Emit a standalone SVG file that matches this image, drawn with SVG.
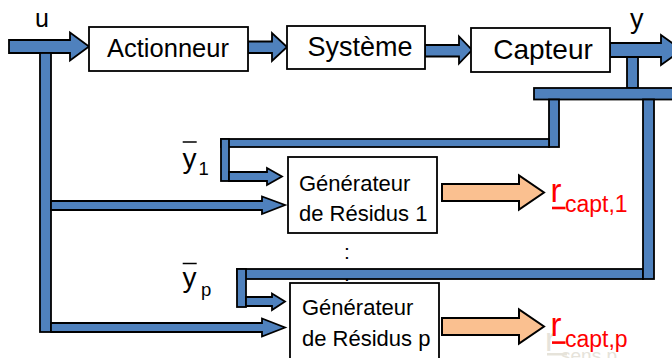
<svg xmlns="http://www.w3.org/2000/svg" width="672" height="358" viewBox="0 0 672 358">
  <style>
    .bus { fill: #4F81BD; stroke: #000; stroke-width: 1.8; stroke-linejoin: miter; }
    .res { fill: #FAC090; stroke: #000; stroke-width: 2; stroke-linejoin: miter; }
    .box { fill: #fff; stroke: #000; stroke-width: 1.8; }
    text { font-family: "Liberation Sans", Arial, sans-serif; fill: #000; }
    .lbl { font-size: 22px; }
    .sig { fill: #FF0000; }
    .ghost { fill: #E6E3DA; }
    .bar { stroke: #000; stroke-width: 1.5; }
  </style>

  <!-- faint leftover residual label, drawn underneath everything -->
  <g id="residual-ghost">
    <text class="ghost" x="545" y="351" font-size="33">r</text>
    <rect class="ghost" x="547" y="353" width="20" height="2.5"/>
    <text class="ghost" x="561" y="362" font-size="19">sens,p</text>
  </g>

  <!-- vertical ellipsis between the two generators (partly hidden by the bus) -->
  <g id="ellipsis">
    <text x="347" y="259.3" font-size="21" text-anchor="middle">:</text>
    <text x="347" y="281" font-size="21" text-anchor="middle">:</text>
  </g>

  <g id="connectors">
    <!-- input u and its branch bus -->
    <polygon class="bus" points="9,40 70,40 70,32.5 89,46.5 70,60.5 70,53 9,53"/>
    <rect class="bus" x="40" y="53" width="11" height="279"/>
    <polygon class="bus" points="51,201 262,201 262,196.5 285,205 262,214 262,210 51,210"/>
    <polygon class="bus" points="51,323 262,323 262,318.5 285,327.5 262,336.5 262,332 51,332"/>

    <!-- main chain -->
    <polygon class="bus" points="248,41.5 272,41.5 272,33 287,47 272,61 272,53 248,53"/>
    <polygon class="bus" points="425,45 459,45 459,36.5 472,50 459,63.5 459,56.5 425,56.5"/>

    <!-- output y and the measurement distribution bus -->
    <rect class="bus" x="627" y="57" width="11" height="31"/>
    <polygon class="bus" points="610,43 661,43 661,35 682,50 661,65 661,57 610,57"/>
    <rect class="bus" x="534" y="88" width="150" height="11.5"/>

    <!-- branch to generator 1 -->
    <rect class="bus" x="549" y="99.5" width="10" height="47.5"/>
    <rect class="bus" x="221" y="139" width="328" height="8"/>
    <rect class="bus" x="221" y="139" width="8" height="42"/>
    <polygon class="bus" points="229,172 267,172 267,168 282,176.5 267,185 267,181 229,181"/>

    <!-- branch to generator p -->
    <rect class="bus" x="237" y="269" width="406" height="10"/>
    <rect class="bus" x="643" y="99.5" width="11" height="179.5"/>
    <rect class="bus" x="237" y="269" width="9" height="38"/>
    <polygon class="bus" points="246,297 272,297 272,293.5 285,301.5 272,310 272,306 246,306"/>

    <!-- residual outputs -->
    <polygon class="res" points="442,184 519,184 519,175.5 544,192.5 519,209.5 519,201 442,201"/>
    <polygon class="res" points="442,318 519,318 519,309.5 544,326.5 519,343.5 519,335 442,335"/>
  </g>

  <g id="actionneur">
    <rect class="box" x="89" y="27" width="159" height="44"/>
    <text x="168" y="57.3" font-size="25.5" text-anchor="middle">Actionneur</text>
  </g>

  <g id="systeme">
    <rect class="box" x="287" y="26" width="138" height="43"/>
    <text x="360" y="56" font-size="27" text-anchor="middle">Système</text>
  </g>

  <g id="capteur">
    <rect class="box" x="471" y="28" width="139" height="44"/>
    <text x="543" y="59.3" font-size="28" text-anchor="middle">Capteur</text>
  </g>

  <g id="generateur-1">
    <rect class="box" x="288" y="157" width="149" height="76"/>
    <text class="lbl" x="299" y="191">Générateur</text>
    <text class="lbl" x="299" y="221">de Résidus 1</text>
  </g>

  <g id="generateur-p">
    <rect class="box" x="290" y="283" width="149" height="82"/>
    <text class="lbl" x="302" y="315">Générateur</text>
    <text class="lbl" x="302" y="346">de Résidus p</text>
  </g>

  <g id="signal-labels">
    <text x="35" y="27" font-size="25">u</text>
    <text x="630" y="27.5" font-size="27">y</text>

    <text x="182.5" y="168" font-size="28">y</text>
    <line class="bar" x1="182.7" y1="142" x2="196.7" y2="142"/>
    <text x="198.5" y="175" font-size="18.5">1</text>

    <text x="182.5" y="287" font-size="28">y</text>
    <line class="bar" x1="182.7" y1="263.5" x2="196.7" y2="263.5"/>
    <text x="201" y="296" font-size="18.5">p</text>
  </g>

  <g id="residus">
    <text class="sig" x="550.5" y="201.7" font-size="33">r</text>
    <rect class="sig" x="552" y="206.7" width="13.5" height="2.6"/>
    <text class="sig" x="565" y="211.7" font-size="23">capt,1</text>

    <text class="sig" x="550.5" y="336" font-size="33">r</text>
    <rect class="sig" x="552" y="341.3" width="13.5" height="2.6"/>
    <text class="sig" x="565" y="347" font-size="23">capt,p</text>
  </g>
</svg>
